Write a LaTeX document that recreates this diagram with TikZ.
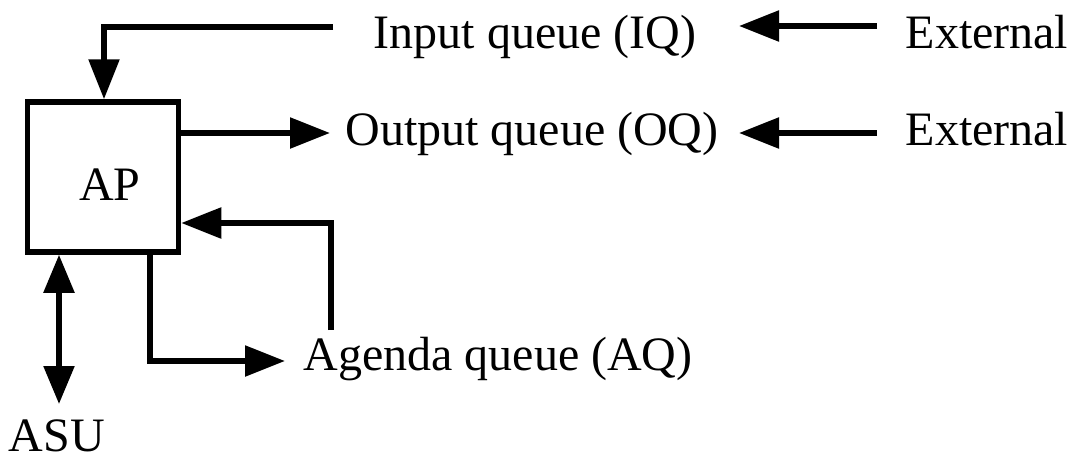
\documentclass[tikz,border=0pt]{standalone}
\usepackage{fontspec}
\setmainfont{Liberation Serif}
\usetikzlibrary{arrows.meta}

\begin{document}
\begin{tikzpicture}[x=1pt,y=-1pt,
  lbl/.style={inner sep=0pt, font=\fontsize{48}{57}\selectfont, anchor=base},
  procbox/.style={draw, line width=5.5pt, minimum width=151pt, minimum height=150pt, inner sep=0pt},
  conn/.style={line width=5.5pt},
  tip/.style={conn, -{Triangle[length=40pt,width=30pt]}},
  dtip/.style={conn, {Triangle[length=38pt,width=30pt]}-{Triangle[length=38pt,width=30pt]}}
]
\useasboundingbox (0,0) rectangle (1082,458);

% processor box and its label
\node[procbox] (ap) at (103,177) {};
\node[lbl] (aplbl) at (110,200) {AP};

% queue and source labels
\node[lbl] (iq)   at (535,48)  {Input queue (IQ)};
\node[lbl] (oq)   at (532,145) {Output queue (OQ)};
\node[lbl] (aq)   at (498,370) {Agenda queue (AQ)};
\node[lbl] (ext1) at (987,48)  {External};
\node[lbl] (ext2) at (987,145) {External};
\node[lbl] (asu)  at (57,451)  {ASU};

% connector end points
\coordinate (iqs)  at (333,27);
\coordinate (oqt)  at (330,133);
\coordinate (e1s)  at (877,26);
\coordinate (e1t)  at (739,26);
\coordinate (e2s)  at (877,133);
\coordinate (e2t)  at (739,133);
\coordinate (aqs)  at (331,330);
\coordinate (aqt)  at (285,361);
\coordinate (asut) at (59,404);

% input queue feeds the processor from above
\draw[tip] (iqs) -| ([xshift=1pt]ap.north);
% processor writes to the output queue
\draw[tip] (ap.east |- oqt) -- (oqt);
% external sources
\draw[tip] (e1s) -- (e1t);
\draw[tip] (e2s) -- (e2t);
% agenda queue loop
\draw[tip] (aqs) |- (ap.east |- 0,223);
\draw[conn] (ap.south -| 150,0) |- ([xshift=-30pt]aqt);
\draw[tip] ([xshift=-33pt]aqt) -- (aqt);
% processor to ASU, both ways
\draw[dtip] (ap.south -| asut) -- (asut);
\end{tikzpicture}
\end{document}
